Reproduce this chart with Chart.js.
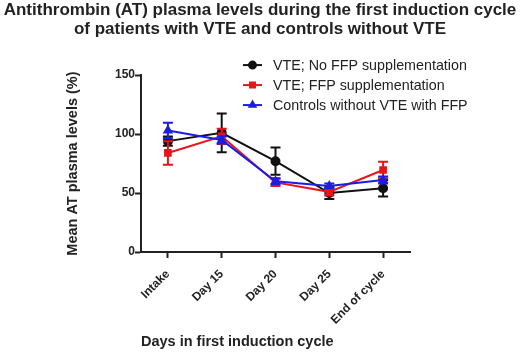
<!DOCTYPE html>
<html>
  <head>
    <title>Antithrombin levels</title>
    <script src="https://cdn.jsdelivr.net/npm/chart.js"></script>
    <style>
      html, body { margin: 0; padding: 0; background: #fff; }
      .wrap { width: 520px; height: 352px; position: relative; }
    </style>
  </head>

  <body>
    <div class="wrap">
      <canvas id="atChart" width="520" height="352"></canvas>
    </div>

    <script>
      // data (mean +/- error)
      var dias = ["Intake", "Day 15", "Day 20", "Day 25", "End of cycle"];
      var yTicks = [0, 50, 100, 150];

      var vteSemFfp = [94, 101, 77, 50, 54];
      var vteSemFfpErr = [4, 16.5, 11.5, 5, 7];

      var vteComFfp = [84, 98, 59, 51, 69.5];
      var vteComFfpErr = [10, 6.5, 3, 3, 7];

      var controles = [103, 95, 60, 56, 61];
      var controlesErr = [6.5, 3, 2.5, 2, 3];

      var fonte = "'Liberation Sans', Arial, sans-serif";
      var escuro = "#222";

      // error bars, drawn under each dataset's line
      var barrasErro = {
        id: "barrasErro",
        beforeDatasetDraw(chart, args) {
          var ds = chart.data.datasets[args.index];
          if (!ds.erros) return;
          var ctx = chart.ctx;
          var y = chart.scales.y;
          ctx.save();
          ctx.strokeStyle = ds.borderColor;
          ctx.lineWidth = 2;
          args.meta.data.forEach(function (pt, i) {
            var v = ds.data[i];
            var e = ds.erros[i];
            var top = y.getPixelForValue(v + e);
            var bot = y.getPixelForValue(v - e);
            ctx.beginPath();
            ctx.moveTo(pt.x, top);
            ctx.lineTo(pt.x, bot);
            ctx.moveTo(pt.x - 5, top);
            ctx.lineTo(pt.x + 5, top);
            ctx.moveTo(pt.x - 5, bot);
            ctx.lineTo(pt.x + 5, bot);
            ctx.stroke();
          });
          ctx.restore();
        },
      };

      // legend sitting over the top right of the plot
      var legendaDentro = {
        id: "legendaDentro",
        afterDraw(chart) {
          var ctx = chart.ctx;
          var area = chart.chartArea;
          var x0 = area.right - 167;
          var y0 = area.top - 10;
          ctx.save();
          chart.data.datasets.forEach(function (ds, i) {
            var yy = y0 + i * 20;
            ctx.strokeStyle = ds.borderColor;
            ctx.lineWidth = 2;
            ctx.beginPath();
            ctx.moveTo(x0, yy);
            ctx.lineTo(x0 + 19, yy);
            ctx.stroke();
            ctx.fillStyle = ds.borderColor;
            Chart.helpers.drawPoint(ctx, {
              pointStyle: ds.pointStyle,
              radius: 3.5,
              rotation: 0,
              borderWidth: 1,
            }, x0 + 9.5, yy);
            ctx.fillStyle = escuro;
            ctx.font = "14.3px " + fonte;
            ctx.textBaseline = "middle";
            ctx.textAlign = "left";
            ctx.fillText(ds.label, x0 + 30, yy + 1);
          });
          ctx.restore();
        },
      };

      function serie(label, cor, estilo, dados, erros, ordem) {
        return {
          label: label,
          data: dados,
          erros: erros,
          borderColor: cor,
          backgroundColor: cor,
          pointBackgroundColor: cor,
          pointBorderColor: cor,
          pointStyle: estilo,
          pointRadius: 4,
          borderWidth: 2,
          order: ordem,
          clip: false,
        };
      }

      var atChart = new Chart(document.getElementById("atChart").getContext("2d"), {
        type: "line",
        data: {
          labels: dias,
          datasets: [
            serie("VTE; No FFP supplementation", "#111111", "circle", vteSemFfp, vteSemFfpErr, 3),
            serie("VTE; FFP supplementation", "#e8141c", "rect", vteComFfp, vteComFfpErr, 2),
            serie("Controls without VTE with FFP", "#1c1ce6", "triangle", controles, controlesErr, 1),
          ],
        },
        plugins: [barrasErro, legendaDentro],
        options: {
          responsive: false,
          animation: false,
          devicePixelRatio: 1,
          layout: {
            padding: { left: 0, right: 0, top: 0, bottom: 1 },
          },
          scales: {
            x: {
              type: "category",
              offset: true,
              afterFit: function (s) { s.height = 99; },
              grid: {
                display: true,
                drawOnChartArea: false,
                offset: false,
                tickLength: 6,
                tickWidth: 2,
                color: escuro,
              },
              border: { display: true, color: escuro, width: 2 },
              ticks: {
                color: escuro,
                font: { family: fonte, size: 12, weight: "bold" },
                minRotation: 45,
                maxRotation: 45,
                padding: 9,
              },
              title: {
                display: true,
                text: "Days in first induction cycle",
                align: "start",
                color: escuro,
                font: { family: fonte, size: 14.5, weight: "bold" },
                padding: { top: 0, bottom: 0 },
              },
            },
            y: {
              min: 0,
              max: 150,
              afterFit: function (s) { s.width = 141; },
              afterBuildTicks: function (axis) {
                axis.ticks = yTicks.map(function (v) { return { value: v }; });
              },
              grid: {
                display: true,
                drawOnChartArea: false,
                tickLength: 6,
                tickWidth: 2,
                color: escuro,
              },
              border: { display: true, color: escuro, width: 2 },
              ticks: {
                color: escuro,
                font: { family: fonte, size: 12, weight: "bold" },
                padding: 0,
              },
              title: {
                display: true,
                text: "Mean AT plasma levels (%)",
                color: escuro,
                font: { family: fonte, size: 14.5, weight: "bold" },
                padding: { top: 64, bottom: 10 },
              },
            },
            // empty strip on the right, where the legend overhangs
            espaco: {
              type: "linear",
              axis: "y",
              position: "right",
              display: true,
              grid: { display: false },
              border: { display: false },
              ticks: { display: false },
              afterFit: function (s) { s.width = 110; },
            },
          },
          plugins: {
            legend: { display: false },
            tooltip: { enabled: false },
            title: {
              display: true,
              text: [
                "Antithrombin (AT) plasma levels during the first induction cycle",
                "of patients with VTE and controls without VTE",
              ],
              color: escuro,
              font: { family: fonte, size: 17, weight: "bold", lineHeight: 1.12 },
              padding: { top: 1, bottom: 36 },
            },
          },
        },
      });
    </script>
  </body>
</html>
